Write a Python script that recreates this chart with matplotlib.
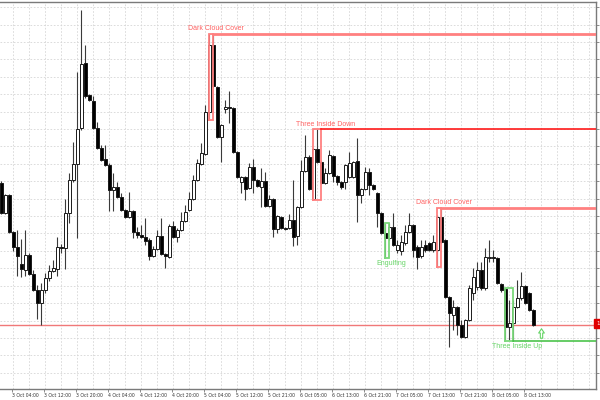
import matplotlib
matplotlib.use("Agg")
import matplotlib.pyplot as plt
import matplotlib.transforms as mtransforms
from matplotlib.path import Path
import numpy as np

# ---------------- data (H1 candles, price in chart points) ----------------
opens = [217,187,205,168,153,136,130,145,126,110,97,110,122,129,131,153,152,187,220,236,
         272,337,305,299,272,252,241,235,210,213,203,190,183,189,168,165,163,160,144,151,
         164,146,143,174,163,170,179,190,201,220,236,246,288,355,313,263,291,293,292,248,
         218,223,212,233,220,213,219,194,201,171,183,172,172,180,164,193,229,243,201,251,
         238,217,227,244,224,218,218,223,223,239,205,211,228,215,207,187,167,162,173,150,
         149,157,168,175,153,144,155,157,150,150,183,160,103,85,93,75,63,80,107,113,
         130,112,142,143,142,116,111,73,77,93,102,114,107,90]
highs = [219,206,206,169,170,161,170,147,130,115,117,127,135,140,163,156,201,227,258,328,
         390,355,306,304,278,255,255,237,227,218,207,191,208,190,173,175,182,162,154,170,
         182,147,176,179,172,188,195,208,225,241,257,295,366,366,314,276,300,309,293,249,
         224,224,237,241,221,232,228,205,202,185,184,173,186,220,194,240,265,245,252,271,
         239,232,250,245,225,219,236,248,239,262,212,233,232,216,208,188,177,177,187,160,
         165,175,187,176,155,160,160,158,165,185,192,161,104,100,94,80,81,115,132,138,
         138,152,160,150,143,117,112,100,100,120,128,115,108,91]
lows = [186,186,167,149,124,123,124,125,109,81,75,107,119,128,124,147,131,177,218,162,
        270,302,299,271,251,239,234,189,189,202,189,182,182,162,162,162,155,140,143,150,
        145,132,142,162,158,169,178,189,200,219,235,245,280,313,262,238,287,277,247,222,
        207,200,211,207,213,193,193,193,163,167,171,170,171,154,155,192,228,210,200,237,
        216,216,226,218,215,211,211,222,222,178,197,210,205,210,173,166,142,160,154,147,
        145,155,167,143,131,142,148,149,148,133,157,102,53,70,65,62,62,79,100,110,
        110,110,138,138,116,108,60,60,59,92,100,96,89,74]
closes = [187,205,168,153,144,131,145,126,110,97,110,122,129,132,153,152,187,220,236,271,
          336,304,300,272,252,240,235,210,213,203,190,183,189,168,165,163,159,144,151,164,
          146,144,174,163,170,179,188,201,220,237,247,288,355,314,263,275,293,292,248,223,
          223,211,233,220,214,219,194,201,171,184,172,171,180,163,193,229,243,211,251,238,
          217,227,245,224,218,213,235,237,238,205,211,228,215,211,187,167,162,173,155,155,
          158,168,175,150,143,153,150,150,158,183,158,103,87,93,75,63,80,112,123,130,
          112,143,143,142,117,110,73,77,93,102,114,97,90,75]

tick_idx = [-5, 3, 11, 19, 27, 35, 43, 51, 59, 67, 75, 83, 91, 99, 107, 115, 123, 131]
tick_labels = ["2 Oct 20:00", "3 Oct 04:00", "3 Oct 12:00", "3 Oct 20:00", "4 Oct 04:00",
               "4 Oct 12:00", "4 Oct 20:00", "5 Oct 04:00", "5 Oct 12:00", "5 Oct 21:00",
               "6 Oct 05:00", "6 Oct 13:00", "6 Oct 21:00", "7 Oct 05:00", "7 Oct 13:00",
               "7 Oct 21:00", "8 Oct 05:00", "8 Oct 13:00"]

pattern_names = ["Dark Cloud Cover", "Three Inside Down", "Engulfing", "Dark Cloud Cover", "Three Inside Up"]
pattern_start = [52, 78, 96, 109, 126]
pattern_end = [53, 80, 97, 110, 128]
pattern_bullish = [False, False, True, False, True]
pattern_line = [True, True, False, True, True]

# ---------------- styling ----------------
BEAR_BOX = "#ff8080"
BEAR_TXT = "#ff6262"
BULL_BOX = "#7ad87a"
BULL_TXT = "#66d466"
line_colors = {"Dark Cloud Cover": "#ff8080", "Three Inside Down": "#ff1a1a",
               "Three Inside Up": "#3cbf3c", "Engulfing": "#3cbf3c"}
line_widths = {"Dark Cloud Cover": 2.0, "Three Inside Down": 1.2,
               "Three Inside Up": 1.1, "Engulfing": 1.1}

fig = plt.figure(figsize=(6, 4), dpi=100)
W, H = 600, 400
ax = fig.add_axes([0 / W, (400 - 389) / H, 596 / W, (389 - 1.5) / H])
ax.set_facecolor("white")

n = len(opens)
x = np.arange(n)
o = np.array(opens, float); c = np.array(closes, float)
h = np.array(highs, float); l = np.array(lows, float)

XLIM = (-1.3 / 4, (596 - 1.3) / 4)
YLIM = (11, 398.5)

# grid
gcol = "#d6d6d6"
yticks = np.arange(27.3, 399, 17.4)
for gx in np.arange(3, 150, 4):
    ax.axvline(gx, color=gcol, lw=0.6, ls=(0, (2, 2)), zorder=0)
for gy in yticks:
    ax.axhline(gy, color=gcol, lw=0.6, ls=(0, (2, 2)), zorder=0)

# bid line
ax.axhline(c[-1] + 0.5, color="#f07878", lw=1.0, zorder=1)

# wicks and bodies
ax.vlines(x, l, h, color="#3a3a3a", lw=0.8, zorder=2)
bull = c >= o
faces = np.where(bull, "white", "black")
ax.bar(x, np.abs(c - o), bottom=np.minimum(o, c), width=0.72, color=faces,
       edgecolor="#1a1a1a", linewidth=0.7, zorder=3)

# candlestick patterns
xmax = XLIM[1]
for name, s, e, bu, ln in zip(pattern_names, pattern_start, pattern_end, pattern_bullish, pattern_line):
    top = h[s:e + 1].max()
    bot = l[s:e + 1].min()
    bc = BULL_BOX if bu else BEAR_BOX
    tc = BULL_TXT if bu else BEAR_TXT
    ax.plot([s, s, e, e, s], [bot, top, top, bot, bot], color=bc, lw=1.3, zorder=4,
            solid_joinstyle="miter")
    if ln:
        yv = bot if bu else top
        ax.plot([e, xmax], [yv, yv], color=line_colors[name], lw=line_widths[name], zorder=4)
    tx = e + 0.4 * (e - s) + 0.2
    if bu:
        ax.text(tx, bot - 2, name, color=tc, fontsize=5, ha="center", va="top",
                family="Liberation Sans", zorder=5)
    else:
        ax.text(tx, top + 1.5, name, color=tc, fontsize=5, ha="center", va="bottom",
                family="Liberation Sans", zorder=5)
    if name == "Three Inside Up":
        verts = [(-0.25, -1), (0.25, -1), (0.25, 0.1), (0.6, 0.1), (0, 1),
                 (-0.6, 0.1), (-0.25, 0.1), (-0.25, -1)]
        arrow = Path(verts, [Path.MOVETO] + [Path.LINETO] * 6 + [Path.CLOSEPOLY])
        ax.plot([n + 1], [bot + 8], marker=arrow, markersize=6.8, mfc="white",
                mec=BULL_TXT, mew=0.8, zorder=5)

# axes frame
ax.spines["left"].set_visible(False)
for side in ["top", "right", "bottom"]:
    ax.spines[side].set_color("#7a7a7a")
    ax.spines[side].set_linewidth(1.0)

ax.yaxis.tick_right()
ax.set_yticks(yticks)
ax.set_yticklabels([f"1.{int(v * 10):04d}" for v in yticks])
ax.tick_params(axis="y", length=2, width=0.6, color="#7a7a7a", labelsize=4, pad=1.5,
               labelcolor="#555555")
ax.set_xticks(np.array(tick_idx) - 0.25)
ax.set_xticklabels(tick_labels)
ax.tick_params(axis="x", length=2, width=0.6, color="#7a7a7a", labelsize=3.3, pad=0.8,
               labelcolor="#333333")
for lab in ax.get_xticklabels():
    lab.set_horizontalalignment("left")

# limits last (setting ticks may widen the view)
ax.set_xlim(*XLIM)
ax.set_ylim(*YLIM)

# price tag on right axis
blend = mtransforms.blended_transform_factory(ax.transAxes, ax.transData)
ax.text(1.0, c[-1] + 1.5, "1.0075", transform=blend, fontsize=4, color="white",
        ha="left", va="center", clip_on=False,
        bbox=dict(boxstyle="square,pad=0.3", fc="#e00000", ec="#e00000"))

fig.savefig("out.png", dpi=100, facecolor="white")
